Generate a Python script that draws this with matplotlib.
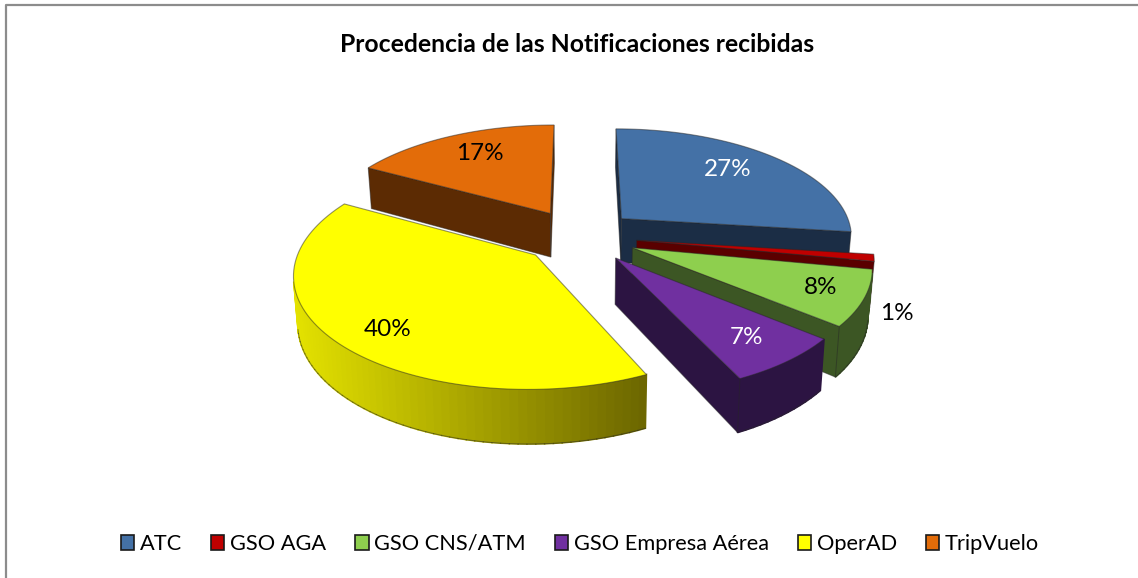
import numpy as np
import matplotlib
matplotlib.use("Agg")
import matplotlib.pyplot as plt
from matplotlib.patches import Patch, Polygon

# Chart data
categories = ["ATC", "GSO AGA", "GSO CNS/ATM", "GSO Empresa Aérea", "OperAD", "TripVuelo"]
values = [27, 1, 8, 7, 40, 17]
labels = ["27%", "1%", "8%", "7%", "40%", "17%"]

# Colours per slice
top_colors = ["#4471a6", "#c00000", "#8ecf4e", "#7030a0", "#ffff00", "#e36c09"]
side_colors = ["#1b2d45", "#5a0000", "#3c5624", "#2c1442", "#000000", "#5c2b03"]
label_colors = ["white", "black", "black", "white", "black", "black"]
label_xy = [(728, 170), (897, 314), (821, 288), (747, 338), (388, 329), (480, 154)]

# Pie geometry in image pixels
cx, cy = 579, 236
rx, ry = 232, 108
persp = 0.15
depth = 45
explode = 0.25

plt.rcParams["font.family"] = ["Lato", "DejaVu Sans"]

fig = plt.figure(figsize=(11.38, 5.78), dpi=100)
ax = fig.add_axes([0, 0, 1, 1])
ax.set_xlim(0, 1138)
ax.set_ylim(578, 0)
ax.axis("off")

# chart frame
ax.plot([6, 6, 1138], [578, 5, 5], color="#8c8c8c", lw=1.6, solid_capstyle="butt")


def project(X, Y, z=0.0):
    s = 1 / (1 + persp * Y)
    x = cx + rx * X * s
    y = cy - ry * Y * s + depth * z * s
    # vertical edges lean slightly towards the middle
    return np.column_stack([cx + (x - cx) * (1 - 0.015 * z), y])


def is_front(quad):
    x, y = quad[:, 0], quad[:, 1]
    return np.sum(x * np.roll(y, -1) - np.roll(x, -1) * y) < 0


def lerp_color(c0, c1, t):
    a = np.array(matplotlib.colors.to_rgb(c0))
    b = np.array(matplotlib.colors.to_rgb(c1))
    return a + (b - a) * t


fractions = np.array(values) / np.sum(values)
ends = np.cumsum(fractions) * 2 * np.pi
starts = ends - fractions * 2 * np.pi
edge = "#26262680"

for i in range(len(values)):
    mid = (starts[i] + ends[i]) / 2
    ox, oy = explode * np.sin(mid), explode * np.cos(mid)
    n = max(int(fractions[i] * 200), 4)
    theta = np.linspace(starts[i], ends[i], n)
    px = np.concatenate([[ox], ox + np.sin(theta), [ox]])
    py = np.concatenate([[oy], oy + np.cos(theta), [oy]])
    top = project(px, py, 0)
    bottom = project(px, py, 1)

    # sides, painted one short strip at a time so OperAD can carry its gradient
    for k in range(len(px) - 1):
        quad = np.array([top[k], top[k + 1], bottom[k + 1], bottom[k]])
        if not is_front(quad):
            continue
        radial = k == 0 or k == len(px) - 2
        color = side_colors[i]
        if categories[i] == "OperAD":
            t = np.clip((quad[:, 0].mean() - 295) / 355, 0, 1)
            color = lerp_color("#e4e200", "#6a6400", t)
        if radial:
            ax.add_patch(Polygon(quad, closed=True, fc=color, ec=edge, lw=0.7, zorder=i + 2.05))
        else:
            ax.add_patch(Polygon(quad, closed=True, fc=color, ec=color, lw=1.2, zorder=i + 2))
            # lower outline of the outer wall
            ax.plot(quad[2:, 0], quad[2:, 1], color=edge, lw=0.7, zorder=i + 2.1)

    ax.add_patch(Polygon(top, closed=True, fc=top_colors[i], ec=edge, lw=0.8, zorder=i + 2.2))

for txt, (x, y), col in zip(labels, label_xy, label_colors):
    ax.text(x, y, txt, color=col, fontsize=17.5, ha="center", va="center", zorder=20)

ax.text(577, 45, "Procedencia de las Notificaciones recibidas", fontsize=17.8,
        fontweight="bold", ha="center", va="center", color="black")

handles = [Patch(facecolor=c, edgecolor="#1a1a1a", linewidth=1.2) for c in top_colors]
ax.legend(handles, categories, loc="center", bbox_to_anchor=(580 / 1138, 1 - 544 / 578),
          ncol=6, frameon=False, fontsize=15.7, handlelength=0.6, handleheight=0.65,
          handletextpad=0.25, columnspacing=1.35, borderpad=0)

fig.savefig("out.png", dpi=100)
